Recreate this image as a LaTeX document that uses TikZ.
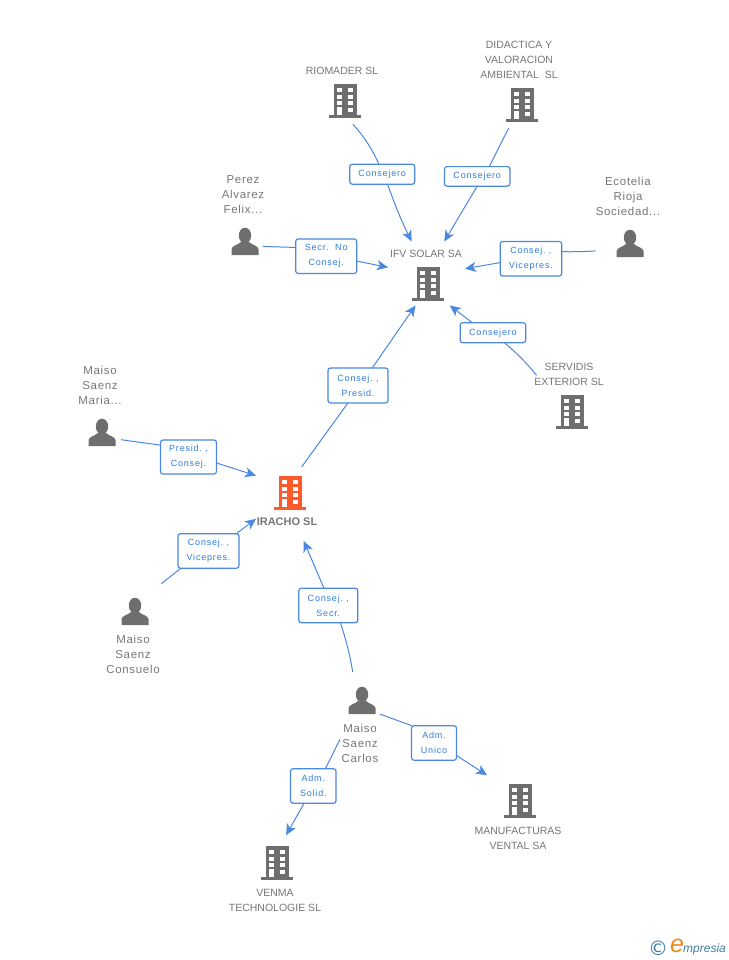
\documentclass[tikz,border=0pt]{standalone}
\usepackage{fontspec}
\setmainfont{Liberation Sans}
\newfontfamily\boxfont[LetterSpace=9]{Liberation Sans}
\newfontfamily\namefont[LetterSpace=6]{Liberation Sans}
\newfontfamily\signfont{DejaVu Sans}
\usetikzlibrary{arrows.meta,positioning}
\definecolor{icongray}{HTML}{6E6E6E}
\definecolor{textgray}{HTML}{767676}
\definecolor{linkblue}{HTML}{4A88E2}
\definecolor{boxblue}{HTML}{2F7DE1}
\definecolor{hotorange}{HTML}{FF5A2C}
\definecolor{logoteal}{HTML}{3F7F9F}
\definecolor{logoorange}{HTML}{F08A1D}
\tikzset{
    spot/.style={circle,minimum size=#1,inner sep=0pt,outer sep=0pt},
    hub/.style 2 args={rectangle,minimum width=#1,minimum height=#2,inner sep=0pt,outer sep=0pt},
    firm/.style={text=textgray,align=center,inner sep=0pt,font=\fontsize{10.5}{15}\selectfont},
    person/.style={text=textgray,align=center,inner sep=0pt,font=\namefont\fontsize{11.5}{15}\selectfont},
    tag/.style 2 args={draw=linkblue,fill=white,line width=1.2pt,rounded corners=2.5pt,inner sep=0pt,outer sep=0pt,
        minimum width=#1,minimum height=#2,align=center,text=boxblue,font=\boxfont\fontsize{9}{15}\selectfont},
    link/.style={draw=linkblue,line width=1pt},
    tip/.style={link,-{Stealth[length=11pt,width=10pt,inset=3pt]}},
    pics/building/.style={code={
        \fill[pic actions] (-11,-17) rectangle (12,14);
        \fill[pic actions] (-16,14) rectangle (16,17);
        \foreach \wx in {-8,3}
            \foreach \wy in {-13,-6,0}
                \fill[white] (\wx,\wy) rectangle ++(5,4);
        \fill[white] (3,7) rectangle ++(5,4);
        \fill[white] (-8,6) rectangle (-3,14);
    }},
    pics/human/.style={code={
        \fill[pic actions] (0,-5.5) ellipse (6.2 and 7.8);
        \fill[pic actions] (-13.5,14) -- (-13.5,8) .. controls (-13,4.5) and (-7,4) .. (-4,1)
            -- (4,1) .. controls (7,4) and (13,4.5) .. (13.5,8) -- (13.5,14) -- cycle;
    }},
}
\begin{document}
\begin{tikzpicture}[x=1pt,y=-1pt]
    \useasboundingbox (0,0) rectangle (728,960);
    % Gray icons
    \foreach \name/\x/\y/\kind/\size in {riomader/345/101/building/49,didactica/522/105/building/53.6,
        servidis/572/412/building/102,manufacturas/520/801/building/83.6,venma/277/863/building/58.6,
        perez/245/241/human/37.2,ecotelia/630/243/human/70.4,maria/102/432/human/41.2,
        consuelo/135/611/human/76}{
        \pic[fill=icongray] at (\x,\y) {\kind};
        \node[spot=\size] (\name) at (\x,\y) {};
    }
    \pic[fill=icongray] at (362,700) {human};
    \pic[fill=icongray] at (428,284) {building};
    \pic[fill=hotorange] at (290,493) {building};
    % Areas that the connectors stop at
    \node[hub={77}{64}] (ifv) at (426.5,273.5) {};
    \node[hub={70}{74}] (iracho) at (291,504) {};
    \node[hub={40}{68}] (carlos) at (360,706) {};
    % Names
    \node[firm] (riomadertext) at (342,71) {RIOMADER SL};
    \node[firm] (didacticatext) at (519,60) {DIDACTICA Y\\VALORACION\\AMBIENTAL\ \ SL};
    \node[person] (pereztext) at (243,195) {Perez\\Alvarez\\Felix...};
    \node[person] (ecoteliatext) at (628,196) {Ecotelia\\Rioja\\Sociedad...};
    \node[firm] (ifvtext) at (426,254) {IFV SOLAR SA};
    \node[firm] (servidistext) at (569,374.5) {SERVIDIS\\EXTERIOR SL};
    \node[person] (mariatext) at (100,385.5) {Maiso\\Saenz\\Maria...};
    \node[firm,font=\bfseries\fontsize{11}{15}\selectfont] (irachotext) at (287,521.5) {IRACHO SL};
    \node[person] (consuelotext) at (133,654) {Maiso\\Saenz\\Consuelo};
    \node[person] (carlostext) at (360,743) {Maiso\\Saenz\\Carlos};
    \node[firm] (manufacturastext) at (518,838.5) {MANUFACTURAS\\VENTAL SA};
    \node[firm] (venmatext) at (275,900.5) {VENMA\\TECHNOLOGIE SL};
    % Role boxes
    \node[tag={65}{20}] (rolerio) at (382.2,174.2) {Consejero};
    \node[tag={65.5}{19.5}] (roledid) at (477.2,176.4) {Consejero};
    \node[tag={61}{34.5}] (roleper) at (326.2,256.2) {Secr.\ \ No\\Consej.};
    \node[tag={61.5}{34.5}] (roleeco) at (530.9,258.8) {Consej.\ ,\\Vicepres.};
    \node[tag={65.5}{20}] (roleser) at (492.9,332.7) {Consejero};
    \node[tag={60}{35}] (roleira) at (358,385.5) {Consej.\ ,\\Presid.};
    \node[tag={56}{34}] (rolemar) at (188.5,457) {Presid.\ ,\\Consej.};
    \node[tag={61}{34.5}] (rolecon) at (208.5,551) {Consej.\ ,\\Vicepres.};
    \node[tag={59}{34.5}] (rolecar) at (328.3,605.5) {Consej.\ ,\\Secr.};
    \node[tag={45}{34.5}] (roleman) at (434,743) {Adm.\\Unico};
    \node[tag={45.5}{34.5}] (roleven) at (313.3,786) {Adm.\\Solid.};
    % Connectors into IFV SOLAR SA
    \draw[link] (riomader.-71.7) to[bend left=8] (rolerio.108);
    \draw[tip] (rolerio.-62.5) to[bend right=3] (ifv.115);
    \draw[link] (didactica.240.3) -- (roledid.39);
    \draw[tip] (roledid.-90) -- (ifv.61);
    \draw[link] (perez.-17.9) -- (roleper.164.4);
    \draw[tip] (roleper.-9) -- (ifv.171);
    \draw[link] (ecotelia.193) to[bend left=2] (roleeco.13);
    \draw[tip] (roleeco.187.4) -- (ifv.7.7);
    \draw[link] (servidis.134.8) to[bend right=5] (roleser.-41.3);
    \draw[tip] (roleser.154.9) -- (ifv.-54.9);
    \draw[link] (iracho.74.9) -- (roleira.-120);
    \draw[tip] (roleira.51.3) -- (ifv.-109.8);
    % Connectors into IRACHO SL
    \draw[link] (maria.-22.8) -- (rolemar.157.9);
    \draw[tip] (rolemar.-12.6) -- (iracho.141.3);
    \draw[link] (consuelo.46.8) -- (rolecon.212);
    \draw[tip] (rolecon.32.8) -- (iracho.203.6);
    \draw[link] (carlos.102.8) to[bend right=4] (rolecar.-55.8);
    \draw[tip] (rolecar.104) -- (iracho.-71.6);
    % Connectors out of Carlos
    \draw[link] (carlos.-22.5) -- (roleman.142.7);
    \draw[tip] (roleman.-29.2) -- (manufacturas.142.8);
    \draw[link] (carlos.239) -- (roleven.55);
    \draw[tip] (roleven.-118) -- (venma.72.7);
    % Logo
    \node[text=logoteal,inner sep=0pt,font=\signfont\fontsize{20}{20}\selectfont] (logosign) at (658,948) {©};
    \node[text=logoorange,inner sep=0pt,font=\itshape\fontsize{25}{25}\selectfont] (logoe) at (677,946) {e};
    \node[text=logoteal,inner sep=0pt,font=\itshape\fontsize{12}{15}\selectfont,anchor=west] (logotext) at (683,949) {mpresia};
\end{tikzpicture}
\end{document}
